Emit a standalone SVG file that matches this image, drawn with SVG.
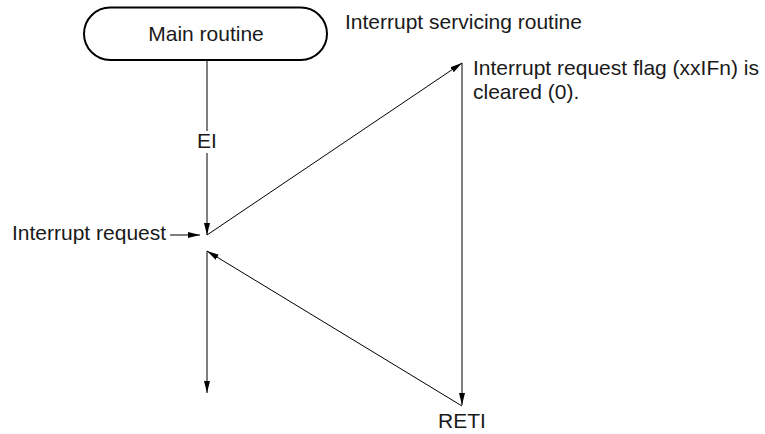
<svg xmlns="http://www.w3.org/2000/svg" width="765" height="434" viewBox="0 0 765 434">
<defs>
<marker id="arr" markerUnits="userSpaceOnUse" markerWidth="12" markerHeight="6" refX="12" refY="3" orient="auto">
<path d="M0,0 L12,3 L0,6 z" fill="#000"/>
</marker>
<style>
text{font-family:"Liberation Sans",Arial,sans-serif;font-size:21px;fill:#1a1a1a}
.ln{stroke:#000;stroke-width:1;fill:none}
.ar{marker-end:url(#arr)}
</style>
</defs>
<rect width="765" height="434" fill="#fff"/>
<g id="main-routine">
<rect x="84" y="7.5" width="243" height="52.5" rx="26.25" ry="26.25" fill="#fff" stroke="#000" stroke-width="2"/>
<text x="206" y="41" text-anchor="middle">Main routine</text>
</g>
<g id="isr-label">
<text x="345" y="29">Interrupt servicing routine</text>
</g>
<g id="flag-note">
<text x="473" y="75">Interrupt request flag (xxIFn) is</text>
<text x="473" y="99">cleared (0).</text>
</g>
<g id="ei-label">
<text x="207" y="148" text-anchor="middle">EI</text>
</g>
<g id="irq-label">
<text x="12" y="240">Interrupt request</text>
</g>
<g id="reti-label">
<text x="462" y="428" text-anchor="middle">RETI</text>
</g>
<g id="connectors">
<line class="ln" x1="207" y1="60" x2="207" y2="131"/>
<line class="ln ar" x1="207" y1="153" x2="207" y2="235"/>
<line class="ln ar" x1="170" y1="235" x2="200" y2="235"/>
<line class="ln ar" x1="207" y1="235" x2="462" y2="63"/>
<line class="ln ar" x1="462" y1="63" x2="462" y2="405"/>
<line class="ln ar" x1="462" y1="406" x2="207" y2="251"/>
<line class="ln ar" x1="207" y1="251" x2="207" y2="393"/>
</g>
</svg>
